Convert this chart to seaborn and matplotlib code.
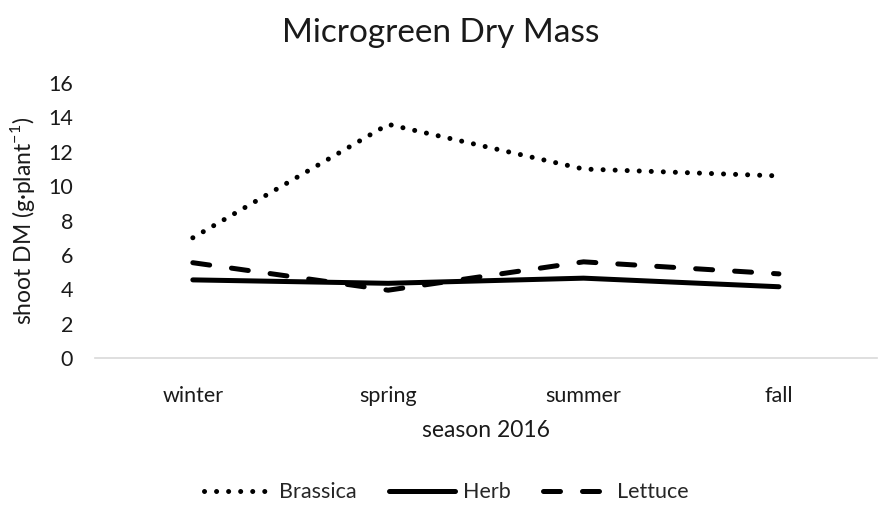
import matplotlib
matplotlib.use("Agg")
import matplotlib.pyplot as plt
import seaborn as sns
import pandas as pd

seasons = ["winter", "spring", "summer", "fall"]
brassica = [7.0, 13.6, 11.0, 10.6]
herb = [4.55, 4.35, 4.65, 4.15]
lettuce = [5.55, 3.95, 5.6, 4.9]
groups = ["Brassica", "Herb", "Lettuce"]
yticks = [0, 2, 4, 6, 8, 10, 12, 14, 16]

df = pd.DataFrame({
    "season": seasons * 3,
    "value": brassica + herb + lettuce,
    "group": [g for g in groups for _ in seasons],
})
df["x"] = df["season"].map({s: i for i, s in enumerate(seasons)})

sns.set_theme(style="white")
plt.rcParams["font.family"] = ["Lato", "DejaVu Sans"]

fig = plt.figure(figsize=(8.81, 5.13), dpi=100)
ax = fig.add_axes([0.108, 0.302, 0.887, 0.536])

sns.lineplot(data=df, x="x", y="value", hue="group", style="group",
             palette={"Brassica": "black", "Herb": "black", "Lettuce": "black"},
             dashes={"Brassica": (0.01, 2.4), "Herb": "", "Lettuce": (3.4, 4.4)},
             linewidth=3.6, ax=ax, legend=True)
for ln in ax.get_lines():
    ln.set_dash_capstyle("round")
    ln.set_solid_capstyle("round")

ax.set_xlim(-0.5, 3.5)
ax.set_ylim(0, 16)
ax.set_xticks(range(len(seasons)))
ax.set_xticklabels(seasons)
ax.set_yticks(yticks)
ax.tick_params(axis="both", length=0, labelsize=15.5, colors="#1a1a1a")
ax.tick_params(axis="x", pad=20)
ax.tick_params(axis="y", pad=16)
for s in ["top", "right", "left"]:
    ax.spines[s].set_visible(False)
ax.spines["bottom"].set_color("#d9d9d9")
ax.spines["bottom"].set_linewidth(1.2)

ax.set_xlabel("season 2016", fontsize=16.5, color="#1a1a1a", labelpad=10)
ax.set_ylabel("shoot DM (g·plant$^{\\mathregular{-1}}$)", fontsize=16.5, color="#1a1a1a", labelpad=8)
fig.text(0.5, 0.936, "Microgreen Dry Mass", fontsize=24, color="#1a1a1a",
         ha="center", va="center")

leg = ax.get_legend()
handles, labels = ax.get_legend_handles_labels()
leg.remove()
leg = fig.legend(handles, labels, loc="center", bbox_to_anchor=(0.507, 0.04), ncol=3,
                 frameon=False, fontsize=15.5, handlelength=3.1, columnspacing=1.5,
                 handletextpad=0.35)
for h in leg.get_lines():
    h.set_dash_capstyle("round")
    h.set_solid_capstyle("round")
    h.set_linewidth(3.6)

fig.savefig("out.png", dpi=100)
